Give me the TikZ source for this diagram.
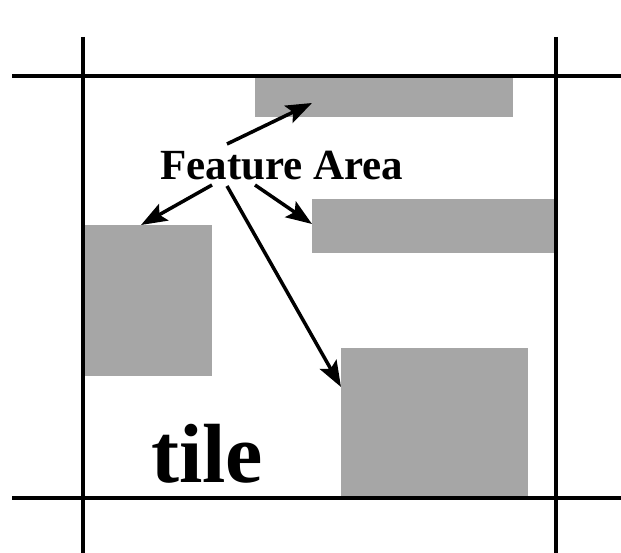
\documentclass[tikz,border=0pt]{standalone}
\usepackage{fontspec}
\setmainfont{Liberation Serif}
\usetikzlibrary{arrows.meta}
\definecolor{featgray}{RGB}{166,166,166}
\begin{document}
\begin{tikzpicture}[x=1pt,y=-1pt,
  feat/.style={fill=featgray,draw=none},
  gridline/.style={line width=4.2pt,black},
  pointer/.style={line width=3.5pt,-{Stealth[length=26pt,width=19pt,inset=5pt]}},
  lbl/.style={inner sep=0pt,anchor=base west,font=\bfseries}]
\useasboundingbox (0,0) rectangle (621,553);
% feature areas
\fill[feat] (255,78) rectangle (513,117);
\fill[feat] (312,199) rectangle (556,253);
\fill[feat] (85,225) rectangle (212,376);
\fill[feat] (341,348) rectangle (528,498);
% tile grid
\draw[gridline] (12,76) -- (621,76);
\draw[gridline] (12,498) -- (621,498);
\draw[gridline] (83,37) -- (83,553);
\draw[gridline] (556,37) -- (556,553);
% labels
\node[lbl,font=\bfseries\fontsize{43}{43}\selectfont] (fa) at (160,180) {Feature Area};
\node[lbl,font=\bfseries\fontsize{84}{84}\selectfont] (tile) at (151,482) {tile};
% arrow ends
\coordinate (s1) at (227,144);
\coordinate (s2) at (212,185);
\coordinate (s3) at (255,185);
\coordinate (s4) at (227,186);
\coordinate (t1) at (312,103);
\coordinate (t2) at (141,225);
\coordinate (t3) at (312,224);
\coordinate (t4) at (341,387);
\draw[pointer] (s1) -- (t1);
\draw[pointer] (s2) -- (t2);
\draw[pointer] (s3) -- (t3);
\draw[pointer] (s4) -- (t4);
\end{tikzpicture}
\end{document}
